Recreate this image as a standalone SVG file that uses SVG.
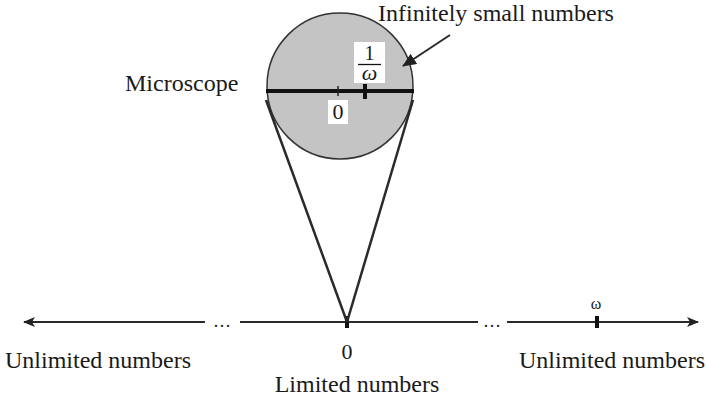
<svg xmlns="http://www.w3.org/2000/svg" width="706" height="401" viewBox="0 0 706 401">
<defs>
<marker id="ah" markerWidth="12" markerHeight="10" refX="11" refY="5" orient="auto-start-reverse" markerUnits="userSpaceOnUse">
<path d="M0,0 L12,5 L0,10 L3,5 Z" fill="#222"/>
</marker>
<marker id="ah2" markerWidth="14" markerHeight="12" refX="13" refY="6" orient="auto" markerUnits="userSpaceOnUse">
<path d="M0,0 L14,6 L0,12 Z" fill="#222"/>
</marker>
</defs>
<style>
text{font-family:"Liberation Serif","Times New Roman",serif;fill:#1a1a1a;font-size:24px}
.ln{stroke:#2a2a2a;fill:none}
</style>
<rect width="706" height="401" fill="#fff"/>
<g id="microscope">
<circle cx="340" cy="86" r="73" fill="#c4c4c4" stroke="#333" stroke-width="1.5"/>
<line x1="266" y1="91" x2="414" y2="91" stroke="#111" stroke-width="4"/>
<line x1="338" y1="86" x2="338" y2="96" stroke="#222" stroke-width="1.5"/>
<line x1="365" y1="84" x2="365" y2="99" stroke="#111" stroke-width="4"/>
<rect x="354" y="42" width="31" height="41" fill="#fff"/>
<text x="369.5" y="60" text-anchor="middle" style="font-size:20px">1</text>
<line x1="358" y1="64.5" x2="381" y2="64.5" stroke="#111" stroke-width="1.3"/>
<text x="369.5" y="80" text-anchor="middle" style="font-size:22px;font-style:italic">ω</text>
<rect x="328" y="100" width="20" height="24" fill="#fff"/>
<text x="338" y="119" text-anchor="middle" style="font-size:22px">0</text>
<text x="125" y="91">Microscope</text>
</g>
<g id="label-infinitesimal">
<text x="378" y="21">Infinitely small numbers</text>
</g>
<g id="axis">
<text x="5" y="368">Unlimited numbers</text>
<text x="347" y="359" text-anchor="middle" style="font-size:22px">0</text>
<text x="357" y="392" text-anchor="middle">Limited numbers</text>
<text x="519" y="368">Unlimited numbers</text>
<text x="222" y="327" text-anchor="middle" style="font-size:18px">…</text>
<text x="492" y="327" text-anchor="middle" style="font-size:18px">…</text>
<text x="596" y="309" text-anchor="middle" style="font-size:16px">ω</text>
</g>
<g id="connectors">
<line class="ln" x1="205" y1="322" x2="24" y2="322" stroke-width="2" marker-end="url(#ah)"/>
<line class="ln" x1="240" y1="322" x2="478" y2="322" stroke-width="2"/>
<line class="ln" x1="507" y1="322" x2="698" y2="322" stroke-width="2" marker-end="url(#ah)"/>
<line x1="347" y1="316" x2="347" y2="328" stroke="#111" stroke-width="4"/>
<line x1="597" y1="316" x2="597" y2="328" stroke="#111" stroke-width="4"/>
<line class="ln" x1="266" y1="100" x2="347" y2="322" stroke-width="2.5"/>
<line class="ln" x1="413" y1="100" x2="347" y2="322" stroke-width="2.5"/>
<line class="ln" x1="450" y1="35" x2="403" y2="66" stroke-width="2" marker-end="url(#ah2)"/>
</g>
</svg>
